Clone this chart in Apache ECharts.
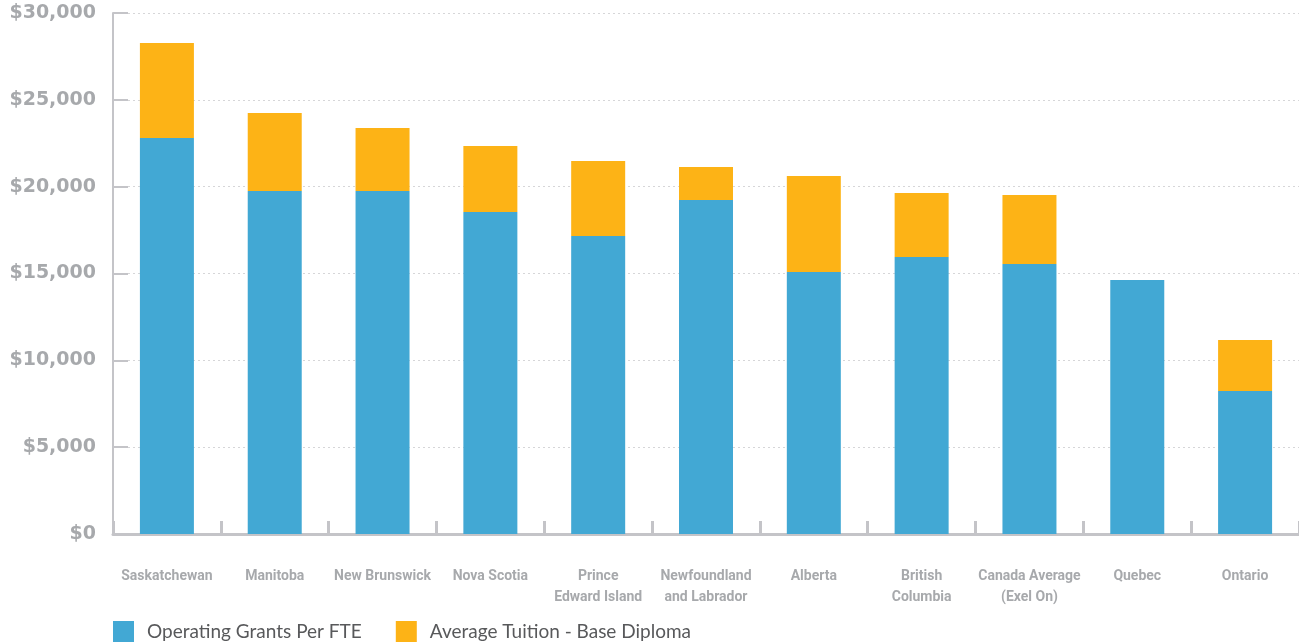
<!DOCTYPE html>
<html><head><meta charset="utf-8">
<script src="https://cdn.jsdelivr.net/npm/echarts@6/dist/echarts.min.js"></script>
<style>html,body{margin:0;padding:0;background:#fff}#c{width:1299px;height:642px}</style>
</head><body><div id="c"></div>
<script>
const categories = ["Saskatchewan","Manitoba","New Brunswick","Nova Scotia","Prince\nEdward Island","Newfoundland\nand Labrador","Alberta","British\nColumbia","Canada Average\n(Exel On)","Quebec","Ontario"];
const operatingGrants = [22800,19750,19750,18540,17160,19230,15090,15950,15550,14630,8230];
const avgTuition = [5470,4490,3630,3800,4320,1900,5530,3690,3970,0,2940];
const yTicks = [0,5000,10000,15000,20000,25000,30000];

const chart = echarts.init(document.getElementById('c'));
chart.setOption({
  animation:false,
  grid:{left:113,right:-2,top:13,bottom:108,containLabel:false},
  legend:{left:108,top:616,itemWidth:21,itemHeight:21,itemGap:34,icon:'rect',
    textStyle:{fontFamily:'Lato, sans-serif',fontSize:19,color:'#58595b',padding:[0,0,0,8]},
    data:['Operating Grants Per FTE','Average Tuition - Base Diploma']},
  xAxis:{type:'category',data:categories,
    axisLine:{lineStyle:{color:'#c4c4c8',width:3}},
    axisTick:{show:true,inside:true,length:13,lineStyle:{color:'#c4c4c8',width:3}},
    axisLabel:{margin:32,fontFamily:'Roboto, sans-serif',fontSize:14,fontWeight:'bold',color:'#a7a9ac',lineHeight:21,interval:0}},
  yAxis:{type:'value',min:0,max:30000,interval:5000,
    axisLine:{show:true,lineStyle:{color:'#c4c4c8',width:2}},
    axisTick:{show:true,inside:true,length:15,lineStyle:{color:'#c4c4c8',width:2}},
    splitLine:{show:true,lineStyle:{color:'#d6d6d8',type:[2,3],width:1}},
    axisLabel:{margin:17,fontFamily:'"DejaVu Sans", sans-serif',fontSize:19,fontWeight:'bold',color:'#a7a9ac',
      formatter:v=>'$'+v.toLocaleString('en-US')}},
  series:[
    {name:'Operating Grants Per FTE',type:'bar',stack:'t',data:operatingGrants,barWidth:54,itemStyle:{color:'#42a8d4'}},
    {name:'Average Tuition - Base Diploma',type:'bar',stack:'t',data:avgTuition,barWidth:54,itemStyle:{color:'#fdb316'}}
  ]
});
</script></body></html>
